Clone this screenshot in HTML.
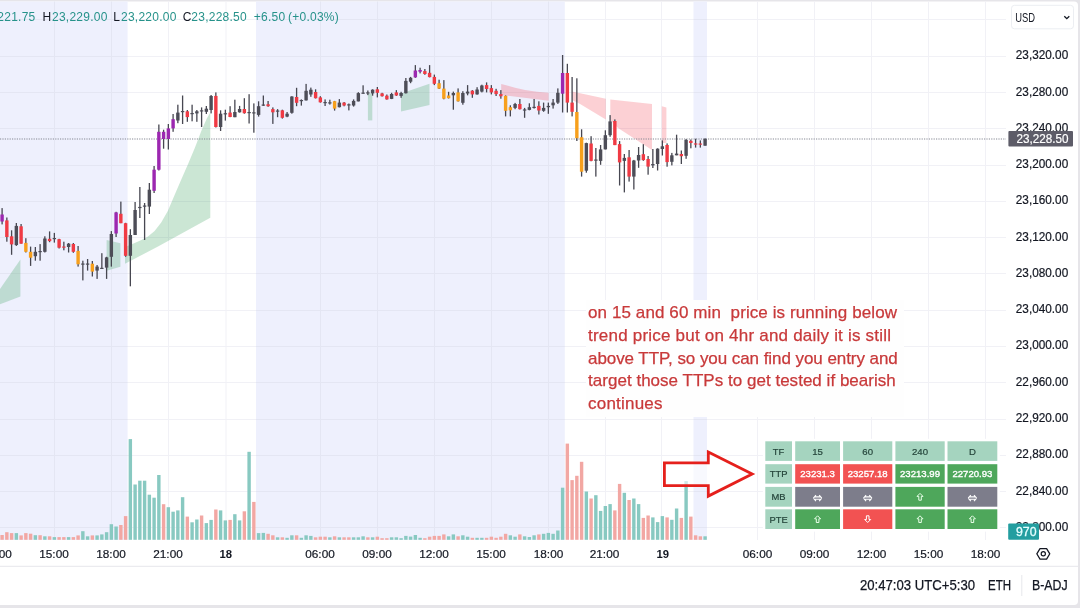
<!DOCTYPE html>
<html><head><meta charset="utf-8"><style>
html,body{margin:0;padding:0;background:#e6e5e9;width:1080px;height:608px;overflow:hidden}
svg{display:block;position:absolute;left:0;top:0}
text{font-family:"Liberation Sans",Arial,sans-serif}
</style></head><body>
<svg width="1080" height="608" viewBox="0 0 1080 608">
<path d="M-10,1.4 H1074 Q1078,1.4 1078,5.4 V601 Q1078,605 1074,605 H-10 Z" fill="#ffffff"/>
<rect x="0" y="1.5" width="127.6" height="538.5" fill="#eef0fd"/>
<rect x="256" y="1.5" width="308.79999999999995" height="538.5" fill="#eef0fd"/>
<rect x="693.5" y="1.5" width="13.5" height="538.5" fill="#eef0fd"/>
<defs><clipPath id="lav"><rect x="0" y="0" width="127.6" height="608"/><rect x="256" y="0" width="308.8" height="608"/><rect x="693.5" y="0" width="13.5" height="608"/></clipPath></defs>
<line x1="0" y1="19.5" x2="1006" y2="19.5" stroke="#f1f1f6" stroke-width="1"/>
<line x1="0" y1="56.5" x2="1006" y2="56.5" stroke="#f1f1f6" stroke-width="1"/>
<line x1="0" y1="92.5" x2="1006" y2="92.5" stroke="#f1f1f6" stroke-width="1"/>
<line x1="0" y1="128.5" x2="1006" y2="128.5" stroke="#f1f1f6" stroke-width="1"/>
<line x1="0" y1="165.5" x2="1006" y2="165.5" stroke="#f1f1f6" stroke-width="1"/>
<line x1="0" y1="201.5" x2="1006" y2="201.5" stroke="#f1f1f6" stroke-width="1"/>
<line x1="0" y1="237.5" x2="1006" y2="237.5" stroke="#f1f1f6" stroke-width="1"/>
<line x1="0" y1="273.5" x2="1006" y2="273.5" stroke="#f1f1f6" stroke-width="1"/>
<line x1="0" y1="310.5" x2="1006" y2="310.5" stroke="#f1f1f6" stroke-width="1"/>
<line x1="0" y1="346.5" x2="1006" y2="346.5" stroke="#f1f1f6" stroke-width="1"/>
<line x1="0" y1="382.5" x2="1006" y2="382.5" stroke="#f1f1f6" stroke-width="1"/>
<line x1="0" y1="419.5" x2="1006" y2="419.5" stroke="#f1f1f6" stroke-width="1"/>
<line x1="0" y1="455.5" x2="1006" y2="455.5" stroke="#f1f1f6" stroke-width="1"/>
<line x1="0" y1="491.5" x2="1006" y2="491.5" stroke="#f1f1f6" stroke-width="1"/>
<line x1="0" y1="527.5" x2="1006" y2="527.5" stroke="#f1f1f6" stroke-width="1"/>
<line x1="54.5" y1="1.5" x2="54.5" y2="540" stroke="#f1f1f6" stroke-width="1"/>
<line x1="111.5" y1="1.5" x2="111.5" y2="540" stroke="#f1f1f6" stroke-width="1"/>
<line x1="168.5" y1="1.5" x2="168.5" y2="540" stroke="#f1f1f6" stroke-width="1"/>
<line x1="226" y1="1.5" x2="226" y2="540" stroke="#f1f1f6" stroke-width="1"/>
<line x1="320.5" y1="1.5" x2="320.5" y2="540" stroke="#f1f1f6" stroke-width="1"/>
<line x1="377.5" y1="1.5" x2="377.5" y2="540" stroke="#f1f1f6" stroke-width="1"/>
<line x1="434.5" y1="1.5" x2="434.5" y2="540" stroke="#f1f1f6" stroke-width="1"/>
<line x1="491.5" y1="1.5" x2="491.5" y2="540" stroke="#f1f1f6" stroke-width="1"/>
<line x1="548.5" y1="1.5" x2="548.5" y2="540" stroke="#f1f1f6" stroke-width="1"/>
<line x1="605.5" y1="1.5" x2="605.5" y2="540" stroke="#f1f1f6" stroke-width="1"/>
<line x1="661.5" y1="1.5" x2="661.5" y2="540" stroke="#f1f1f6" stroke-width="1"/>
<line x1="757.5" y1="1.5" x2="757.5" y2="540" stroke="#f1f1f6" stroke-width="1"/>
<line x1="814.5" y1="1.5" x2="814.5" y2="540" stroke="#f1f1f6" stroke-width="1"/>
<line x1="871.5" y1="1.5" x2="871.5" y2="540" stroke="#f1f1f6" stroke-width="1"/>
<line x1="928.5" y1="1.5" x2="928.5" y2="540" stroke="#f1f1f6" stroke-width="1"/>
<line x1="985.5" y1="1.5" x2="985.5" y2="540" stroke="#f1f1f6" stroke-width="1"/>
<g clip-path="url(#lav)"><line x1="0" y1="19.5" x2="1006" y2="19.5" stroke="#e4e6f3" stroke-width="1"/>
<line x1="0" y1="56.5" x2="1006" y2="56.5" stroke="#e4e6f3" stroke-width="1"/>
<line x1="0" y1="92.5" x2="1006" y2="92.5" stroke="#e4e6f3" stroke-width="1"/>
<line x1="0" y1="128.5" x2="1006" y2="128.5" stroke="#e4e6f3" stroke-width="1"/>
<line x1="0" y1="165.5" x2="1006" y2="165.5" stroke="#e4e6f3" stroke-width="1"/>
<line x1="0" y1="201.5" x2="1006" y2="201.5" stroke="#e4e6f3" stroke-width="1"/>
<line x1="0" y1="237.5" x2="1006" y2="237.5" stroke="#e4e6f3" stroke-width="1"/>
<line x1="0" y1="273.5" x2="1006" y2="273.5" stroke="#e4e6f3" stroke-width="1"/>
<line x1="0" y1="310.5" x2="1006" y2="310.5" stroke="#e4e6f3" stroke-width="1"/>
<line x1="0" y1="346.5" x2="1006" y2="346.5" stroke="#e4e6f3" stroke-width="1"/>
<line x1="0" y1="382.5" x2="1006" y2="382.5" stroke="#e4e6f3" stroke-width="1"/>
<line x1="0" y1="419.5" x2="1006" y2="419.5" stroke="#e4e6f3" stroke-width="1"/>
<line x1="0" y1="455.5" x2="1006" y2="455.5" stroke="#e4e6f3" stroke-width="1"/>
<line x1="0" y1="491.5" x2="1006" y2="491.5" stroke="#e4e6f3" stroke-width="1"/>
<line x1="0" y1="527.5" x2="1006" y2="527.5" stroke="#e4e6f3" stroke-width="1"/>
<line x1="54.5" y1="1.5" x2="54.5" y2="540" stroke="#e4e6f3" stroke-width="1"/>
<line x1="111.5" y1="1.5" x2="111.5" y2="540" stroke="#e4e6f3" stroke-width="1"/>
<line x1="168.5" y1="1.5" x2="168.5" y2="540" stroke="#e4e6f3" stroke-width="1"/>
<line x1="226" y1="1.5" x2="226" y2="540" stroke="#e4e6f3" stroke-width="1"/>
<line x1="320.5" y1="1.5" x2="320.5" y2="540" stroke="#e4e6f3" stroke-width="1"/>
<line x1="377.5" y1="1.5" x2="377.5" y2="540" stroke="#e4e6f3" stroke-width="1"/>
<line x1="434.5" y1="1.5" x2="434.5" y2="540" stroke="#e4e6f3" stroke-width="1"/>
<line x1="491.5" y1="1.5" x2="491.5" y2="540" stroke="#e4e6f3" stroke-width="1"/>
<line x1="548.5" y1="1.5" x2="548.5" y2="540" stroke="#e4e6f3" stroke-width="1"/>
<line x1="605.5" y1="1.5" x2="605.5" y2="540" stroke="#e4e6f3" stroke-width="1"/>
<line x1="661.5" y1="1.5" x2="661.5" y2="540" stroke="#e4e6f3" stroke-width="1"/>
<line x1="757.5" y1="1.5" x2="757.5" y2="540" stroke="#e4e6f3" stroke-width="1"/>
<line x1="814.5" y1="1.5" x2="814.5" y2="540" stroke="#e4e6f3" stroke-width="1"/>
<line x1="871.5" y1="1.5" x2="871.5" y2="540" stroke="#e4e6f3" stroke-width="1"/>
<line x1="928.5" y1="1.5" x2="928.5" y2="540" stroke="#e4e6f3" stroke-width="1"/>
<line x1="985.5" y1="1.5" x2="985.5" y2="540" stroke="#e4e6f3" stroke-width="1"/></g>
<polygon points="0,289 20.4,259.6 20.4,296.4 0,304.3" fill="rgba(56,160,90,0.26)"/>
<polygon points="106.6,239.9 120.4,243.2 120.4,266.8 106.6,270.8" fill="rgba(56,160,90,0.26)"/>
<polygon points="125,247 132.4,244 141.5,239.9 148,236.6 154.6,230.9 161.2,222.6 167.8,211.1 172.7,199.6 177.6,188.1 182.6,176.6 188.4,163.2 195,147.4 201.6,130.3 206.8,118.4 210.3,112.5 210.3,217.7 158,246.5 125,263.8" fill="rgba(56,160,90,0.26)"/>
<rect x="367.9" y="93.4" width="4.4" height="27" fill="rgba(56,160,90,0.26)"/>
<polygon points="401,93.5 429.5,83.8 429.5,105 401,111.4" fill="rgba(56,160,90,0.26)"/>
<polygon points="501.2,84 508,85.8 515,87.8 525,90 537,91.8 548.6,92.8 548.6,100.7 501.2,95" fill="rgba(242,54,69,0.23)"/>
<polygon points="572,91.4 605.8,98.7 605.8,119.4 579.7,103.7 572,100" fill="rgba(242,54,69,0.23)"/>
<polygon points="610.3,99.5 652,104 652,150 618,128 610.3,120" fill="rgba(242,54,69,0.23)"/>
<polygon points="661.8,106.3 666.4,107.5 666.4,143 661.8,143" fill="rgba(242,54,69,0.23)"/>
<rect x="0.40" y="535.0" width="3.4" height="4.8" fill="#f2a7a3"/>
<rect x="5.15" y="532.2" width="3.4" height="7.6" fill="#f2a7a3"/>
<rect x="9.90" y="533.1" width="3.4" height="6.7" fill="#f2a7a3"/>
<rect x="14.65" y="533.1" width="3.4" height="6.7" fill="#88c9c1"/>
<rect x="19.40" y="535.4" width="3.4" height="4.4" fill="#f2a7a3"/>
<rect x="24.15" y="533.1" width="3.4" height="6.7" fill="#f2a7a3"/>
<rect x="28.90" y="533.7" width="3.4" height="6.1" fill="#f2a7a3"/>
<rect x="33.65" y="535.2" width="3.4" height="4.6" fill="#88c9c1"/>
<rect x="38.40" y="535.2" width="3.4" height="4.6" fill="#f2a7a3"/>
<rect x="43.15" y="536.3" width="3.4" height="3.5" fill="#88c9c1"/>
<rect x="47.90" y="536.3" width="3.4" height="3.5" fill="#f2a7a3"/>
<rect x="52.65" y="537.1" width="3.4" height="2.7" fill="#88c9c1"/>
<rect x="57.40" y="537.1" width="3.4" height="2.7" fill="#f2a7a3"/>
<rect x="62.15" y="537.1" width="3.4" height="2.7" fill="#f2a7a3"/>
<rect x="66.90" y="537.1" width="3.4" height="2.7" fill="#88c9c1"/>
<rect x="71.65" y="537.1" width="3.4" height="2.7" fill="#f2a7a3"/>
<rect x="76.40" y="535.4" width="3.4" height="4.4" fill="#f2a7a3"/>
<rect x="81.15" y="531.2" width="3.4" height="8.6" fill="#88c9c1"/>
<rect x="85.90" y="536.3" width="3.4" height="3.5" fill="#88c9c1"/>
<rect x="90.65" y="535.4" width="3.4" height="4.4" fill="#f2a7a3"/>
<rect x="95.40" y="535.4" width="3.4" height="4.4" fill="#88c9c1"/>
<rect x="100.15" y="534.4" width="3.4" height="5.4" fill="#88c9c1"/>
<rect x="104.90" y="532.2" width="3.4" height="7.6" fill="#88c9c1"/>
<rect x="109.65" y="524.2" width="3.4" height="15.6" fill="#88c9c1"/>
<rect x="114.40" y="526.5" width="3.4" height="13.3" fill="#88c9c1"/>
<rect x="119.15" y="525.0" width="3.4" height="14.8" fill="#f2a7a3"/>
<rect x="123.90" y="516.1" width="3.4" height="23.7" fill="#f2a7a3"/>
<rect x="128.65" y="439.1" width="3.4" height="100.7" fill="#88c9c1"/>
<rect x="133.40" y="484.5" width="3.4" height="55.3" fill="#88c9c1"/>
<rect x="138.15" y="480.7" width="3.4" height="59.1" fill="#88c9c1"/>
<rect x="142.90" y="480.7" width="3.4" height="59.1" fill="#88c9c1"/>
<rect x="147.65" y="494.7" width="3.4" height="45.1" fill="#88c9c1"/>
<rect x="152.40" y="497.7" width="3.4" height="42.1" fill="#88c9c1"/>
<rect x="157.15" y="475.0" width="3.4" height="64.8" fill="#88c9c1"/>
<rect x="161.90" y="504.2" width="3.4" height="35.6" fill="#f2a7a3"/>
<rect x="166.65" y="507.2" width="3.4" height="32.6" fill="#88c9c1"/>
<rect x="171.40" y="511.7" width="3.4" height="28.1" fill="#88c9c1"/>
<rect x="176.15" y="510.4" width="3.4" height="29.4" fill="#88c9c1"/>
<rect x="180.90" y="497.2" width="3.4" height="42.6" fill="#88c9c1"/>
<rect x="185.65" y="516.6" width="3.4" height="23.2" fill="#f2a7a3"/>
<rect x="190.40" y="522.3" width="3.4" height="17.5" fill="#88c9c1"/>
<rect x="195.15" y="519.5" width="3.4" height="20.3" fill="#88c9c1"/>
<rect x="199.90" y="515.5" width="3.4" height="24.3" fill="#f2a7a3"/>
<rect x="204.65" y="523.1" width="3.4" height="16.7" fill="#88c9c1"/>
<rect x="209.40" y="519.9" width="3.4" height="19.9" fill="#88c9c1"/>
<rect x="214.15" y="509.5" width="3.4" height="30.3" fill="#f2a7a3"/>
<rect x="218.90" y="510.4" width="3.4" height="29.4" fill="#88c9c1"/>
<rect x="223.65" y="520.4" width="3.4" height="19.4" fill="#88c9c1"/>
<rect x="228.40" y="519.9" width="3.4" height="19.9" fill="#f2a7a3"/>
<rect x="233.15" y="514.2" width="3.4" height="25.6" fill="#88c9c1"/>
<rect x="237.90" y="520.4" width="3.4" height="19.4" fill="#88c9c1"/>
<rect x="242.65" y="511.3" width="3.4" height="28.5" fill="#f2a7a3"/>
<rect x="247.40" y="451.8" width="3.4" height="88.0" fill="#88c9c1"/>
<rect x="252.15" y="501.9" width="3.4" height="37.9" fill="#f2a7a3"/>
<rect x="256.90" y="533.1" width="3.4" height="6.7" fill="#88c9c1"/>
<rect x="261.65" y="532.9" width="3.4" height="6.9" fill="#88c9c1"/>
<rect x="266.40" y="533.8" width="3.4" height="6.0" fill="#f2a7a3"/>
<rect x="271.15" y="535.3" width="3.4" height="4.5" fill="#f2a7a3"/>
<rect x="275.90" y="537.3" width="3.4" height="2.5" fill="#88c9c1"/>
<rect x="280.65" y="537.3" width="3.4" height="2.5" fill="#f2a7a3"/>
<rect x="285.40" y="537.8" width="3.4" height="2.0" fill="#88c9c1"/>
<rect x="290.15" y="535.3" width="3.4" height="4.5" fill="#88c9c1"/>
<rect x="294.90" y="535.3" width="3.4" height="4.5" fill="#f2a7a3"/>
<rect x="299.65" y="537.8" width="3.4" height="2.0" fill="#88c9c1"/>
<rect x="304.40" y="535.3" width="3.4" height="4.5" fill="#88c9c1"/>
<rect x="309.15" y="535.9" width="3.4" height="3.9" fill="#88c9c1"/>
<rect x="313.90" y="537.3" width="3.4" height="2.5" fill="#f2a7a3"/>
<rect x="318.65" y="536.7" width="3.4" height="3.1" fill="#f2a7a3"/>
<rect x="323.40" y="536.7" width="3.4" height="3.1" fill="#f2a7a3"/>
<rect x="328.15" y="537.3" width="3.4" height="2.5" fill="#88c9c1"/>
<rect x="332.90" y="536.3" width="3.4" height="3.5" fill="#f2a7a3"/>
<rect x="337.65" y="537.3" width="3.4" height="2.5" fill="#88c9c1"/>
<rect x="342.40" y="537.3" width="3.4" height="2.5" fill="#f2a7a3"/>
<rect x="347.15" y="537.3" width="3.4" height="2.5" fill="#f2a7a3"/>
<rect x="351.90" y="537.3" width="3.4" height="2.5" fill="#88c9c1"/>
<rect x="356.65" y="537.3" width="3.4" height="2.5" fill="#88c9c1"/>
<rect x="361.40" y="536.3" width="3.4" height="3.5" fill="#88c9c1"/>
<rect x="366.15" y="537.3" width="3.4" height="2.5" fill="#f2a7a3"/>
<rect x="370.90" y="537.3" width="3.4" height="2.5" fill="#88c9c1"/>
<rect x="375.65" y="536.7" width="3.4" height="3.1" fill="#f2a7a3"/>
<rect x="380.40" y="538.2" width="3.4" height="1.6" fill="#f2a7a3"/>
<rect x="385.15" y="538.2" width="3.4" height="1.6" fill="#f2a7a3"/>
<rect x="389.90" y="537.3" width="3.4" height="2.5" fill="#88c9c1"/>
<rect x="394.65" y="537.3" width="3.4" height="2.5" fill="#88c9c1"/>
<rect x="399.40" y="538.2" width="3.4" height="1.6" fill="#88c9c1"/>
<rect x="404.15" y="535.9" width="3.4" height="3.9" fill="#88c9c1"/>
<rect x="408.90" y="536.6" width="3.4" height="3.2" fill="#88c9c1"/>
<rect x="413.65" y="535.0" width="3.4" height="4.8" fill="#88c9c1"/>
<rect x="418.40" y="537.8" width="3.4" height="2.0" fill="#88c9c1"/>
<rect x="423.15" y="538.2" width="3.4" height="1.6" fill="#f2a7a3"/>
<rect x="427.90" y="536.7" width="3.4" height="3.1" fill="#f2a7a3"/>
<rect x="432.65" y="535.9" width="3.4" height="3.9" fill="#f2a7a3"/>
<rect x="437.40" y="535.9" width="3.4" height="3.9" fill="#f2a7a3"/>
<rect x="442.15" y="534.4" width="3.4" height="5.4" fill="#f2a7a3"/>
<rect x="446.90" y="536.3" width="3.4" height="3.5" fill="#88c9c1"/>
<rect x="451.65" y="534.4" width="3.4" height="5.4" fill="#88c9c1"/>
<rect x="456.40" y="536.3" width="3.4" height="3.5" fill="#f2a7a3"/>
<rect x="461.15" y="535.3" width="3.4" height="4.5" fill="#88c9c1"/>
<rect x="465.90" y="536.7" width="3.4" height="3.1" fill="#88c9c1"/>
<rect x="470.65" y="537.8" width="3.4" height="2.0" fill="#f2a7a3"/>
<rect x="475.40" y="537.8" width="3.4" height="2.0" fill="#88c9c1"/>
<rect x="480.15" y="537.8" width="3.4" height="2.0" fill="#88c9c1"/>
<rect x="484.90" y="537.8" width="3.4" height="2.0" fill="#f2a7a3"/>
<rect x="489.65" y="536.7" width="3.4" height="3.1" fill="#f2a7a3"/>
<rect x="494.40" y="537.8" width="3.4" height="2.0" fill="#f2a7a3"/>
<rect x="499.15" y="536.7" width="3.4" height="3.1" fill="#f2a7a3"/>
<rect x="503.90" y="533.8" width="3.4" height="6.0" fill="#f2a7a3"/>
<rect x="508.65" y="535.3" width="3.4" height="4.5" fill="#88c9c1"/>
<rect x="513.40" y="536.7" width="3.4" height="3.1" fill="#88c9c1"/>
<rect x="518.15" y="534.4" width="3.4" height="5.4" fill="#f2a7a3"/>
<rect x="522.90" y="536.3" width="3.4" height="3.5" fill="#88c9c1"/>
<rect x="527.65" y="537.0" width="3.4" height="2.8" fill="#88c9c1"/>
<rect x="532.40" y="535.3" width="3.4" height="4.5" fill="#88c9c1"/>
<rect x="537.15" y="534.4" width="3.4" height="5.4" fill="#f2a7a3"/>
<rect x="541.90" y="533.8" width="3.4" height="6.0" fill="#88c9c1"/>
<rect x="546.65" y="532.9" width="3.4" height="6.9" fill="#88c9c1"/>
<rect x="551.40" y="533.8" width="3.4" height="6.0" fill="#88c9c1"/>
<rect x="556.15" y="530.5" width="3.4" height="9.3" fill="#88c9c1"/>
<rect x="560.90" y="487.7" width="3.4" height="52.1" fill="#88c9c1"/>
<rect x="565.65" y="443.6" width="3.4" height="96.2" fill="#f2a7a3"/>
<rect x="570.40" y="480.1" width="3.4" height="59.7" fill="#f2a7a3"/>
<rect x="575.15" y="475.8" width="3.4" height="64.0" fill="#f2a7a3"/>
<rect x="579.90" y="461.8" width="3.4" height="78.0" fill="#f2a7a3"/>
<rect x="584.65" y="491.5" width="3.4" height="48.3" fill="#88c9c1"/>
<rect x="589.40" y="498.5" width="3.4" height="41.3" fill="#f2a7a3"/>
<rect x="594.15" y="495.2" width="3.4" height="44.6" fill="#88c9c1"/>
<rect x="598.90" y="510.9" width="3.4" height="28.9" fill="#88c9c1"/>
<rect x="603.65" y="506.0" width="3.4" height="33.8" fill="#88c9c1"/>
<rect x="608.40" y="504.1" width="3.4" height="35.7" fill="#88c9c1"/>
<rect x="613.15" y="510.4" width="3.4" height="29.4" fill="#f2a7a3"/>
<rect x="617.90" y="483.9" width="3.4" height="55.9" fill="#f2a7a3"/>
<rect x="622.65" y="492.8" width="3.4" height="47.0" fill="#88c9c1"/>
<rect x="627.40" y="500.0" width="3.4" height="39.8" fill="#f2a7a3"/>
<rect x="632.15" y="498.5" width="3.4" height="41.3" fill="#88c9c1"/>
<rect x="636.90" y="504.1" width="3.4" height="35.7" fill="#88c9c1"/>
<rect x="641.65" y="517.9" width="3.4" height="21.9" fill="#f2a7a3"/>
<rect x="646.40" y="515.5" width="3.4" height="24.3" fill="#f2a7a3"/>
<rect x="651.15" y="517.4" width="3.4" height="22.4" fill="#88c9c1"/>
<rect x="655.90" y="522.1" width="3.4" height="17.7" fill="#88c9c1"/>
<rect x="660.65" y="516.1" width="3.4" height="23.7" fill="#88c9c1"/>
<rect x="665.40" y="517.4" width="3.4" height="22.4" fill="#f2a7a3"/>
<rect x="670.15" y="519.8" width="3.4" height="20.0" fill="#88c9c1"/>
<rect x="674.90" y="508.5" width="3.4" height="31.3" fill="#88c9c1"/>
<rect x="679.65" y="517.9" width="3.4" height="21.9" fill="#f2a7a3"/>
<rect x="684.40" y="481.1" width="3.4" height="58.7" fill="#88c9c1"/>
<rect x="689.15" y="516.6" width="3.4" height="23.2" fill="#f2a7a3"/>
<rect x="693.90" y="535.3" width="3.4" height="4.5" fill="#f2a7a3"/>
<rect x="698.65" y="536.3" width="3.4" height="3.5" fill="#f2a7a3"/>
<rect x="703.40" y="536.3" width="3.4" height="3.5" fill="#88c9c1"/>
<line x1="0" y1="139" x2="1006" y2="139" stroke="#858893" stroke-width="1" stroke-dasharray="1.2 1.2"/>
<rect x="1.45" y="208.1" width="1.3" height="16.3" fill="#474751"/>
<rect x="0.40" y="214.5" width="3.4" height="7.0" fill="#9c27b0"/>
<rect x="6.20" y="217.5" width="1.3" height="24.2" fill="#474751"/>
<rect x="5.15" y="220.4" width="3.4" height="16.6" fill="#f03a44"/>
<rect x="10.95" y="230.3" width="1.3" height="24.5" fill="#474751"/>
<rect x="9.90" y="236.3" width="3.4" height="8.1" fill="#f03a44"/>
<rect x="15.70" y="223.0" width="1.3" height="22.9" fill="#474751"/>
<rect x="14.65" y="225.9" width="3.4" height="19.2" fill="#4d4d57"/>
<rect x="20.45" y="224.0" width="1.3" height="19.7" fill="#474751"/>
<rect x="19.40" y="226.3" width="3.4" height="17.4" fill="#f03a44"/>
<rect x="25.20" y="238.2" width="1.3" height="14.3" fill="#474751"/>
<rect x="24.15" y="242.9" width="3.4" height="8.9" fill="#f7a01c"/>
<rect x="29.95" y="246.6" width="1.3" height="19.3" fill="#474751"/>
<rect x="28.90" y="251.8" width="3.4" height="5.9" fill="#f7a01c"/>
<rect x="34.70" y="247.0" width="1.3" height="13.7" fill="#474751"/>
<rect x="33.65" y="251.8" width="3.4" height="4.4" fill="#4d4d57"/>
<rect x="39.45" y="244.1" width="1.3" height="16.6" fill="#474751"/>
<rect x="38.40" y="251.0" width="3.4" height="1.2" fill="#4d4d57"/>
<rect x="44.20" y="236.3" width="1.3" height="16.2" fill="#474751"/>
<rect x="43.15" y="238.5" width="3.4" height="13.3" fill="#4d4d57"/>
<rect x="48.95" y="231.4" width="1.3" height="10.8" fill="#474751"/>
<rect x="47.90" y="238.8" width="3.4" height="2.3" fill="#f03a44"/>
<rect x="53.70" y="232.9" width="1.3" height="9.7" fill="#474751"/>
<rect x="52.65" y="238.0" width="3.4" height="1.2" fill="#4d4d57"/>
<rect x="58.45" y="238.8" width="1.3" height="9.7" fill="#474751"/>
<rect x="57.40" y="239.2" width="3.4" height="8.5" fill="#f03a44"/>
<rect x="63.20" y="241.7" width="1.3" height="8.6" fill="#474751"/>
<rect x="62.15" y="246.5" width="3.4" height="1.2" fill="#f03a44"/>
<rect x="67.95" y="243.0" width="1.3" height="9.5" fill="#474751"/>
<rect x="66.90" y="243.7" width="3.4" height="3.3" fill="#4d4d57"/>
<rect x="72.70" y="243.0" width="1.3" height="9.8" fill="#474751"/>
<rect x="71.65" y="244.0" width="3.4" height="7.8" fill="#f03a44"/>
<rect x="77.45" y="246.0" width="1.3" height="20.6" fill="#474751"/>
<rect x="76.40" y="250.9" width="3.4" height="13.4" fill="#f7a01c"/>
<rect x="82.20" y="260.7" width="1.3" height="19.7" fill="#474751"/>
<rect x="81.15" y="263.5" width="3.4" height="1.2" fill="#4d4d57"/>
<rect x="86.95" y="259.0" width="1.3" height="11.6" fill="#474751"/>
<rect x="85.90" y="263.5" width="3.4" height="1.2" fill="#4d4d57"/>
<rect x="91.70" y="261.0" width="1.3" height="15.5" fill="#474751"/>
<rect x="90.65" y="263.7" width="3.4" height="7.9" fill="#f7a01c"/>
<rect x="96.45" y="265.0" width="1.3" height="13.9" fill="#474751"/>
<rect x="95.40" y="266.6" width="3.4" height="4.0" fill="#4d4d57"/>
<rect x="101.20" y="253.2" width="1.3" height="15.4" fill="#474751"/>
<rect x="100.15" y="267.8" width="3.4" height="1.2" fill="#4d4d57"/>
<rect x="105.95" y="256.8" width="1.3" height="22.1" fill="#474751"/>
<rect x="104.90" y="257.4" width="3.4" height="10.2" fill="#4d4d57"/>
<rect x="110.70" y="231.1" width="1.3" height="35.5" fill="#474751"/>
<rect x="109.65" y="234.0" width="3.4" height="22.8" fill="#4d4d57"/>
<rect x="115.45" y="211.8" width="1.3" height="25.2" fill="#474751"/>
<rect x="114.40" y="212.4" width="3.4" height="21.1" fill="#9c27b0"/>
<rect x="120.20" y="201.6" width="1.3" height="21.6" fill="#474751"/>
<rect x="119.15" y="213.8" width="3.4" height="9.4" fill="#f03a44"/>
<rect x="124.95" y="222.8" width="1.3" height="34.0" fill="#474751"/>
<rect x="123.90" y="223.2" width="3.4" height="32.6" fill="#f03a44"/>
<rect x="129.70" y="229.2" width="1.3" height="57.1" fill="#474751"/>
<rect x="128.65" y="235.0" width="3.4" height="20.8" fill="#4d4d57"/>
<rect x="134.45" y="202.0" width="1.3" height="33.0" fill="#474751"/>
<rect x="133.40" y="210.0" width="3.4" height="25.0" fill="#4d4d57"/>
<rect x="139.20" y="187.0" width="1.3" height="31.0" fill="#474751"/>
<rect x="138.15" y="206.9" width="3.4" height="1.2" fill="#4d4d57"/>
<rect x="143.95" y="203.0" width="1.3" height="37.0" fill="#474751"/>
<rect x="142.90" y="205.5" width="3.4" height="1.2" fill="#4d4d57"/>
<rect x="148.70" y="183.0" width="1.3" height="31.0" fill="#474751"/>
<rect x="147.65" y="189.7" width="3.4" height="16.9" fill="#4d4d57"/>
<rect x="153.45" y="166.0" width="1.3" height="27.0" fill="#474751"/>
<rect x="152.40" y="169.7" width="3.4" height="21.1" fill="#9c27b0"/>
<rect x="158.20" y="124.5" width="1.3" height="46.0" fill="#474751"/>
<rect x="157.15" y="131.8" width="3.4" height="37.9" fill="#9c27b0"/>
<rect x="162.95" y="129.7" width="1.3" height="19.0" fill="#474751"/>
<rect x="161.90" y="131.8" width="3.4" height="7.2" fill="#9c27b0"/>
<rect x="167.70" y="124.0" width="1.3" height="25.5" fill="#474751"/>
<rect x="166.65" y="128.4" width="3.4" height="10.6" fill="#9c27b0"/>
<rect x="172.45" y="114.0" width="1.3" height="17.8" fill="#474751"/>
<rect x="171.40" y="119.2" width="3.4" height="9.2" fill="#9c27b0"/>
<rect x="177.20" y="104.7" width="1.3" height="18.5" fill="#474751"/>
<rect x="176.15" y="112.6" width="3.4" height="7.9" fill="#4d4d57"/>
<rect x="181.95" y="95.5" width="1.3" height="28.5" fill="#474751"/>
<rect x="180.90" y="111.0" width="3.4" height="1.2" fill="#4d4d57"/>
<rect x="186.70" y="110.0" width="1.3" height="11.8" fill="#474751"/>
<rect x="185.65" y="111.3" width="3.4" height="5.8" fill="#f03a44"/>
<rect x="191.45" y="104.7" width="1.3" height="16.6" fill="#474751"/>
<rect x="190.40" y="113.0" width="3.4" height="1.2" fill="#4d4d57"/>
<rect x="196.20" y="110.0" width="1.3" height="11.8" fill="#474751"/>
<rect x="195.15" y="111.3" width="3.4" height="2.1" fill="#4d4d57"/>
<rect x="200.95" y="107.4" width="1.3" height="19.6" fill="#474751"/>
<rect x="199.90" y="110.3" width="3.4" height="1.2" fill="#4d4d57"/>
<rect x="205.70" y="106.0" width="1.3" height="8.0" fill="#474751"/>
<rect x="204.65" y="108.7" width="3.4" height="3.1" fill="#4d4d57"/>
<rect x="210.45" y="95.0" width="1.3" height="18.4" fill="#474751"/>
<rect x="209.40" y="96.0" width="3.4" height="14.0" fill="#4d4d57"/>
<rect x="215.20" y="92.4" width="1.3" height="35.1" fill="#474751"/>
<rect x="214.15" y="95.9" width="3.4" height="31.1" fill="#f03a44"/>
<rect x="219.95" y="110.3" width="1.3" height="20.7" fill="#474751"/>
<rect x="218.90" y="113.7" width="3.4" height="13.3" fill="#4d4d57"/>
<rect x="224.70" y="109.7" width="1.3" height="10.9" fill="#474751"/>
<rect x="223.65" y="113.2" width="3.4" height="1.2" fill="#4d4d57"/>
<rect x="229.45" y="106.2" width="1.3" height="11.0" fill="#474751"/>
<rect x="228.40" y="112.6" width="3.4" height="4.4" fill="#f03a44"/>
<rect x="234.20" y="99.7" width="1.3" height="17.5" fill="#474751"/>
<rect x="233.15" y="112.0" width="3.4" height="5.2" fill="#4d4d57"/>
<rect x="238.95" y="105.9" width="1.3" height="6.7" fill="#474751"/>
<rect x="237.90" y="109.0" width="3.4" height="3.3" fill="#4d4d57"/>
<rect x="243.70" y="98.2" width="1.3" height="15.5" fill="#474751"/>
<rect x="242.65" y="109.0" width="3.4" height="4.2" fill="#f03a44"/>
<rect x="248.45" y="94.2" width="1.3" height="29.3" fill="#474751"/>
<rect x="247.40" y="112.0" width="3.4" height="1.2" fill="#4d4d57"/>
<rect x="253.20" y="103.4" width="1.3" height="29.3" fill="#474751"/>
<rect x="252.15" y="112.3" width="3.4" height="1.2" fill="#4d4d57"/>
<rect x="257.95" y="101.3" width="1.3" height="15.3" fill="#474751"/>
<rect x="256.90" y="106.2" width="3.4" height="8.7" fill="#4d4d57"/>
<rect x="262.70" y="95.5" width="1.3" height="10.4" fill="#474751"/>
<rect x="261.65" y="104.5" width="3.4" height="1.2" fill="#4d4d57"/>
<rect x="267.45" y="101.0" width="1.3" height="5.8" fill="#474751"/>
<rect x="266.40" y="104.3" width="3.4" height="1.9" fill="#f03a44"/>
<rect x="272.20" y="107.4" width="1.3" height="16.5" fill="#474751"/>
<rect x="271.15" y="109.1" width="3.4" height="3.2" fill="#f03a44"/>
<rect x="276.95" y="109.1" width="1.3" height="8.1" fill="#474751"/>
<rect x="275.90" y="110.5" width="3.4" height="1.2" fill="#4d4d57"/>
<rect x="281.70" y="109.7" width="1.3" height="8.9" fill="#474751"/>
<rect x="280.65" y="110.3" width="3.4" height="7.5" fill="#f03a44"/>
<rect x="286.45" y="112.0" width="1.3" height="5.2" fill="#474751"/>
<rect x="285.40" y="113.7" width="3.4" height="2.9" fill="#4d4d57"/>
<rect x="291.20" y="96.2" width="1.3" height="17.5" fill="#474751"/>
<rect x="290.15" y="96.5" width="3.4" height="16.3" fill="#4d4d57"/>
<rect x="295.95" y="87.8" width="1.3" height="18.4" fill="#474751"/>
<rect x="294.90" y="97.0" width="3.4" height="5.8" fill="#f03a44"/>
<rect x="300.70" y="99.4" width="1.3" height="6.2" fill="#474751"/>
<rect x="299.65" y="100.0" width="3.4" height="1.2" fill="#4d4d57"/>
<rect x="305.45" y="83.9" width="1.3" height="16.6" fill="#474751"/>
<rect x="304.40" y="90.8" width="3.4" height="9.6" fill="#4d4d57"/>
<rect x="310.20" y="87.6" width="1.3" height="9.2" fill="#474751"/>
<rect x="309.15" y="89.7" width="3.4" height="4.8" fill="#4d4d57"/>
<rect x="314.95" y="89.3" width="1.3" height="9.2" fill="#474751"/>
<rect x="313.90" y="92.0" width="3.4" height="6.2" fill="#f03a44"/>
<rect x="319.70" y="96.2" width="1.3" height="6.4" fill="#474751"/>
<rect x="318.65" y="97.4" width="3.4" height="4.9" fill="#f03a44"/>
<rect x="324.45" y="99.4" width="1.3" height="6.6" fill="#474751"/>
<rect x="323.40" y="102.0" width="3.4" height="1.2" fill="#4d4d57"/>
<rect x="329.20" y="99.7" width="1.3" height="4.9" fill="#474751"/>
<rect x="328.15" y="102.3" width="3.4" height="1.2" fill="#4d4d57"/>
<rect x="333.95" y="100.9" width="1.3" height="9.7" fill="#474751"/>
<rect x="332.90" y="101.2" width="3.4" height="7.4" fill="#f7a01c"/>
<rect x="338.70" y="99.1" width="1.3" height="8.3" fill="#474751"/>
<rect x="337.65" y="102.6" width="3.4" height="4.6" fill="#4d4d57"/>
<rect x="343.45" y="102.0" width="1.3" height="4.3" fill="#474751"/>
<rect x="342.40" y="102.6" width="3.4" height="2.9" fill="#f03a44"/>
<rect x="348.20" y="103.5" width="1.3" height="6.9" fill="#474751"/>
<rect x="347.15" y="104.3" width="3.4" height="1.2" fill="#4d4d57"/>
<rect x="352.95" y="99.4" width="1.3" height="7.2" fill="#474751"/>
<rect x="351.90" y="100.9" width="3.4" height="4.6" fill="#4d4d57"/>
<rect x="357.70" y="92.2" width="1.3" height="9.2" fill="#474751"/>
<rect x="356.65" y="93.1" width="3.4" height="8.3" fill="#4d4d57"/>
<rect x="362.45" y="85.3" width="1.3" height="8.3" fill="#474751"/>
<rect x="361.40" y="92.6" width="3.4" height="1.2" fill="#4d4d57"/>
<rect x="367.20" y="90.5" width="1.3" height="4.6" fill="#474751"/>
<rect x="366.15" y="92.3" width="3.4" height="1.2" fill="#4d4d57"/>
<rect x="371.95" y="89.3" width="1.3" height="6.4" fill="#474751"/>
<rect x="370.90" y="89.7" width="3.4" height="3.7" fill="#4d4d57"/>
<rect x="376.70" y="87.0" width="1.3" height="10.4" fill="#474751"/>
<rect x="375.65" y="89.3" width="3.4" height="3.5" fill="#f03a44"/>
<rect x="381.45" y="92.8" width="1.3" height="3.8" fill="#474751"/>
<rect x="380.40" y="93.4" width="3.4" height="2.8" fill="#f03a44"/>
<rect x="386.20" y="94.5" width="1.3" height="5.2" fill="#474751"/>
<rect x="385.15" y="95.7" width="3.4" height="3.7" fill="#f03a44"/>
<rect x="390.95" y="92.8" width="1.3" height="6.3" fill="#474751"/>
<rect x="389.90" y="94.0" width="3.4" height="4.9" fill="#4d4d57"/>
<rect x="395.70" y="90.1" width="1.3" height="5.8" fill="#474751"/>
<rect x="394.65" y="92.4" width="3.4" height="3.1" fill="#f03a44"/>
<rect x="400.45" y="91.8" width="1.3" height="6.0" fill="#474751"/>
<rect x="399.40" y="93.0" width="3.4" height="2.9" fill="#4d4d57"/>
<rect x="405.20" y="78.0" width="1.3" height="15.5" fill="#474751"/>
<rect x="404.15" y="80.9" width="3.4" height="12.3" fill="#4d4d57"/>
<rect x="409.95" y="76.9" width="1.3" height="6.3" fill="#474751"/>
<rect x="408.90" y="77.8" width="3.4" height="3.9" fill="#4d4d57"/>
<rect x="414.70" y="65.1" width="1.3" height="12.7" fill="#474751"/>
<rect x="413.65" y="70.5" width="3.4" height="6.9" fill="#9c27b0"/>
<rect x="419.45" y="67.7" width="1.3" height="5.7" fill="#474751"/>
<rect x="418.40" y="70.0" width="3.4" height="1.7" fill="#9c27b0"/>
<rect x="424.20" y="69.0" width="1.3" height="5.8" fill="#474751"/>
<rect x="423.15" y="71.1" width="3.4" height="2.9" fill="#f03a44"/>
<rect x="428.95" y="65.1" width="1.3" height="12.3" fill="#474751"/>
<rect x="427.90" y="72.8" width="3.4" height="4.3" fill="#f03a44"/>
<rect x="433.70" y="74.6" width="1.3" height="10.5" fill="#474751"/>
<rect x="432.65" y="76.9" width="3.4" height="6.9" fill="#f03a44"/>
<rect x="438.45" y="79.7" width="1.3" height="9.3" fill="#474751"/>
<rect x="437.40" y="83.2" width="3.4" height="5.4" fill="#f7a01c"/>
<rect x="443.20" y="80.1" width="1.3" height="19.2" fill="#474751"/>
<rect x="442.15" y="88.6" width="3.4" height="10.1" fill="#f7a01c"/>
<rect x="447.95" y="91.8" width="1.3" height="6.7" fill="#474751"/>
<rect x="446.90" y="95.5" width="3.4" height="2.7" fill="#f7a01c"/>
<rect x="452.70" y="91.6" width="1.3" height="18.1" fill="#474751"/>
<rect x="451.65" y="93.0" width="3.4" height="2.3" fill="#4d4d57"/>
<rect x="457.45" y="88.4" width="1.3" height="13.2" fill="#474751"/>
<rect x="456.40" y="92.4" width="3.4" height="8.9" fill="#f7a01c"/>
<rect x="462.20" y="91.2" width="1.3" height="13.5" fill="#474751"/>
<rect x="461.15" y="93.0" width="3.4" height="9.8" fill="#4d4d57"/>
<rect x="466.95" y="85.1" width="1.3" height="10.2" fill="#474751"/>
<rect x="465.90" y="91.6" width="3.4" height="1.9" fill="#4d4d57"/>
<rect x="471.70" y="90.1" width="1.3" height="7.7" fill="#474751"/>
<rect x="470.65" y="90.7" width="3.4" height="3.7" fill="#f03a44"/>
<rect x="476.45" y="87.2" width="1.3" height="7.5" fill="#474751"/>
<rect x="475.40" y="89.5" width="3.4" height="4.9" fill="#4d4d57"/>
<rect x="481.20" y="84.7" width="1.3" height="7.7" fill="#474751"/>
<rect x="480.15" y="85.5" width="3.4" height="6.1" fill="#4d4d57"/>
<rect x="485.95" y="82.4" width="1.3" height="10.0" fill="#474751"/>
<rect x="484.90" y="85.1" width="3.4" height="3.9" fill="#f03a44"/>
<rect x="490.70" y="85.1" width="1.3" height="9.3" fill="#474751"/>
<rect x="489.65" y="88.1" width="3.4" height="4.3" fill="#f03a44"/>
<rect x="495.45" y="88.8" width="1.3" height="7.2" fill="#474751"/>
<rect x="494.40" y="90.8" width="3.4" height="3.3" fill="#f03a44"/>
<rect x="500.20" y="90.1" width="1.3" height="8.6" fill="#474751"/>
<rect x="499.15" y="94.1" width="3.4" height="2.2" fill="#f03a44"/>
<rect x="504.95" y="95.4" width="1.3" height="21.0" fill="#474751"/>
<rect x="503.90" y="95.8" width="3.4" height="15.0" fill="#f7a01c"/>
<rect x="509.70" y="105.3" width="1.3" height="11.1" fill="#474751"/>
<rect x="508.65" y="107.2" width="3.4" height="3.1" fill="#f7a01c"/>
<rect x="514.45" y="102.9" width="1.3" height="6.3" fill="#474751"/>
<rect x="513.40" y="104.0" width="3.4" height="3.9" fill="#4d4d57"/>
<rect x="519.20" y="99.0" width="1.3" height="10.5" fill="#474751"/>
<rect x="518.15" y="104.0" width="3.4" height="5.2" fill="#f03a44"/>
<rect x="523.95" y="107.9" width="1.3" height="9.9" fill="#474751"/>
<rect x="522.90" y="109.4" width="3.4" height="1.2" fill="#4d4d57"/>
<rect x="528.70" y="103.3" width="1.3" height="7.0" fill="#474751"/>
<rect x="527.65" y="107.2" width="3.4" height="2.7" fill="#4d4d57"/>
<rect x="533.45" y="99.0" width="1.3" height="9.6" fill="#474751"/>
<rect x="532.40" y="106.8" width="3.4" height="1.2" fill="#4d4d57"/>
<rect x="538.20" y="101.3" width="1.3" height="13.2" fill="#474751"/>
<rect x="537.15" y="105.9" width="3.4" height="4.6" fill="#f03a44"/>
<rect x="542.95" y="102.6" width="1.3" height="9.2" fill="#474751"/>
<rect x="541.90" y="107.9" width="3.4" height="2.9" fill="#4d4d57"/>
<rect x="547.70" y="102.6" width="1.3" height="11.2" fill="#474751"/>
<rect x="546.65" y="105.9" width="3.4" height="1.3" fill="#4d4d57"/>
<rect x="552.45" y="99.0" width="1.3" height="9.6" fill="#474751"/>
<rect x="551.40" y="102.6" width="3.4" height="2.7" fill="#4d4d57"/>
<rect x="557.20" y="88.4" width="1.3" height="15.5" fill="#474751"/>
<rect x="556.15" y="92.8" width="3.4" height="9.8" fill="#4d4d57"/>
<rect x="561.95" y="55.0" width="1.3" height="57.5" fill="#474751"/>
<rect x="560.90" y="73.0" width="3.4" height="20.7" fill="#9c27b0"/>
<rect x="566.70" y="63.8" width="1.3" height="48.7" fill="#474751"/>
<rect x="565.65" y="73.0" width="3.4" height="29.6" fill="#f03a44"/>
<rect x="571.45" y="77.0" width="1.3" height="39.4" fill="#474751"/>
<rect x="570.40" y="102.6" width="3.4" height="9.2" fill="#f03a44"/>
<rect x="576.20" y="78.3" width="1.3" height="62.7" fill="#474751"/>
<rect x="575.15" y="112.0" width="3.4" height="26.2" fill="#f7a01c"/>
<rect x="580.95" y="129.3" width="1.3" height="47.3" fill="#474751"/>
<rect x="579.90" y="137.2" width="3.4" height="34.5" fill="#f7a01c"/>
<rect x="585.70" y="142.7" width="1.3" height="30.0" fill="#474751"/>
<rect x="584.65" y="143.1" width="3.4" height="27.6" fill="#4d4d57"/>
<rect x="590.45" y="136.2" width="1.3" height="25.1" fill="#474751"/>
<rect x="589.40" y="143.5" width="3.4" height="17.4" fill="#f03a44"/>
<rect x="595.20" y="148.0" width="1.3" height="28.6" fill="#474751"/>
<rect x="594.15" y="159.5" width="3.4" height="1.2" fill="#4d4d57"/>
<rect x="599.95" y="145.0" width="1.3" height="19.8" fill="#474751"/>
<rect x="598.90" y="149.4" width="3.4" height="11.5" fill="#4d4d57"/>
<rect x="604.70" y="130.3" width="1.3" height="19.1" fill="#474751"/>
<rect x="603.65" y="135.2" width="3.4" height="14.2" fill="#4d4d57"/>
<rect x="609.45" y="115.1" width="1.3" height="21.7" fill="#474751"/>
<rect x="608.40" y="121.4" width="3.4" height="13.8" fill="#4d4d57"/>
<rect x="614.20" y="119.4" width="1.3" height="25.7" fill="#474751"/>
<rect x="613.15" y="121.0" width="3.4" height="24.1" fill="#f03a44"/>
<rect x="618.95" y="141.1" width="1.3" height="44.4" fill="#474751"/>
<rect x="617.90" y="144.1" width="3.4" height="18.3" fill="#f03a44"/>
<rect x="623.70" y="154.0" width="1.3" height="38.4" fill="#474751"/>
<rect x="622.65" y="157.9" width="3.4" height="3.0" fill="#4d4d57"/>
<rect x="628.45" y="150.0" width="1.3" height="31.6" fill="#474751"/>
<rect x="627.40" y="157.3" width="3.4" height="19.3" fill="#f03a44"/>
<rect x="633.20" y="159.9" width="1.3" height="29.6" fill="#474751"/>
<rect x="632.15" y="160.5" width="3.4" height="16.1" fill="#4d4d57"/>
<rect x="637.95" y="147.0" width="1.3" height="20.8" fill="#474751"/>
<rect x="636.90" y="155.0" width="3.4" height="5.5" fill="#4d4d57"/>
<rect x="642.70" y="144.2" width="1.3" height="16.6" fill="#474751"/>
<rect x="641.65" y="154.2" width="3.4" height="5.9" fill="#f03a44"/>
<rect x="647.45" y="156.0" width="1.3" height="18.7" fill="#474751"/>
<rect x="646.40" y="159.0" width="3.4" height="7.6" fill="#f03a44"/>
<rect x="652.20" y="149.0" width="1.3" height="19.0" fill="#474751"/>
<rect x="651.15" y="164.0" width="3.4" height="1.4" fill="#4d4d57"/>
<rect x="656.95" y="148.3" width="1.3" height="22.2" fill="#474751"/>
<rect x="655.90" y="148.7" width="3.4" height="15.3" fill="#4d4d57"/>
<rect x="661.70" y="140.4" width="1.3" height="15.1" fill="#474751"/>
<rect x="660.65" y="146.3" width="3.4" height="2.7" fill="#4d4d57"/>
<rect x="666.45" y="143.4" width="1.3" height="23.3" fill="#474751"/>
<rect x="665.40" y="145.0" width="3.4" height="17.1" fill="#f03a44"/>
<rect x="671.20" y="152.9" width="1.3" height="12.5" fill="#474751"/>
<rect x="670.15" y="155.3" width="3.4" height="6.5" fill="#4d4d57"/>
<rect x="675.95" y="134.7" width="1.3" height="20.6" fill="#474751"/>
<rect x="674.90" y="153.6" width="3.4" height="1.7" fill="#4d4d57"/>
<rect x="680.70" y="150.5" width="1.3" height="13.5" fill="#474751"/>
<rect x="679.65" y="154.0" width="3.4" height="2.2" fill="#f03a44"/>
<rect x="685.45" y="139.0" width="1.3" height="19.8" fill="#474751"/>
<rect x="684.40" y="140.0" width="3.4" height="15.8" fill="#4d4d57"/>
<rect x="690.20" y="139.5" width="1.3" height="8.8" fill="#474751"/>
<rect x="689.15" y="140.8" width="3.4" height="2.2" fill="#f03a44"/>
<rect x="694.95" y="138.7" width="1.3" height="8.9" fill="#474751"/>
<rect x="693.90" y="143.4" width="3.4" height="1.2" fill="#f03a44"/>
<rect x="699.70" y="140.4" width="1.3" height="7.2" fill="#474751"/>
<rect x="698.65" y="143.5" width="3.4" height="1.2" fill="#f03a44"/>
<rect x="704.45" y="138.4" width="1.3" height="7.3" fill="#474751"/>
<rect x="703.40" y="138.8" width="3.4" height="6.9" fill="#4d4d57"/>
<rect x="586" y="300" width="318" height="117" fill="#fefefe"/>
<text x="588" y="318.4" font-size="17" fill="#c8393a" stroke="#c8393a" stroke-width="0.25" xml:space="preserve" textLength="309" lengthAdjust="spacing">on 15 and 60 min  price is running below</text>
<text x="588" y="341.0" font-size="17" fill="#c8393a" stroke="#c8393a" stroke-width="0.25" xml:space="preserve" textLength="303" lengthAdjust="spacing">trend price but on 4hr and daily it is still</text>
<text x="588" y="363.7" font-size="17" fill="#c8393a" stroke="#c8393a" stroke-width="0.25" xml:space="preserve" textLength="309.8" lengthAdjust="spacing">above TTP, so you can find you entry and</text>
<text x="588" y="386.3" font-size="17" fill="#c8393a" stroke="#c8393a" stroke-width="0.25" xml:space="preserve" textLength="307.8" lengthAdjust="spacing">target those TTPs to get tested if bearish</text>
<text x="588" y="409.0" font-size="17" fill="#c8393a" stroke="#c8393a" stroke-width="0.25" xml:space="preserve" textLength="74.5" lengthAdjust="spacing">continues</text>
<path d="M664.4,462.8 H708.3 V452 L752.2,473.9 L708.3,496.1 V485.6 H664.4 Z" fill="rgba(255,255,255,0.6)" stroke="#e5201c" stroke-width="2.8" stroke-linejoin="miter"/>
<rect x="762.8" y="438.8" width="237" height="92.8" fill="#ffffff"/>
<rect x="765.3" y="441.3" width="26.7" height="19.6" fill="#a5d4bf"/>
<text x="778.6" y="454.5" font-size="9.4" fill="#24443a" stroke="#24443a" stroke-width="0.2" text-anchor="middle">TF</text>
<rect x="795.2" y="441.3" width="44.8" height="19.6" fill="#a5d4bf"/>
<text x="817.6" y="454.5" font-size="9.6" fill="#24443a" stroke="#24443a" stroke-width="0.2" text-anchor="middle">15</text>
<rect x="843.1" y="441.3" width="49.2" height="19.6" fill="#a5d4bf"/>
<text x="867.7" y="454.5" font-size="9.6" fill="#24443a" stroke="#24443a" stroke-width="0.2" text-anchor="middle">60</text>
<rect x="895.4" y="441.3" width="49.3" height="19.6" fill="#a5d4bf"/>
<text x="920.0" y="454.5" font-size="9.6" fill="#24443a" stroke="#24443a" stroke-width="0.2" text-anchor="middle">240</text>
<rect x="947.5" y="441.3" width="49.8" height="19.6" fill="#a5d4bf"/>
<text x="972.4" y="454.5" font-size="9.6" fill="#24443a" stroke="#24443a" stroke-width="0.2" text-anchor="middle">D</text>
<rect x="765.3" y="464.2" width="26.7" height="19.4" fill="#a5d4bf"/>
<text x="778.6" y="477.3" font-size="9.4" fill="#24443a" stroke="#24443a" stroke-width="0.2" text-anchor="middle">TTP</text>
<rect x="795.2" y="464.2" width="44.8" height="19.4" fill="#f25252"/>
<text x="817.6" y="477.3" font-size="9.6" fill="#fff" stroke="#fff" stroke-width="0.35" text-anchor="middle">23231.3</text>
<rect x="843.1" y="464.2" width="49.2" height="19.4" fill="#f25252"/>
<text x="867.7" y="477.3" font-size="9.6" fill="#fff" stroke="#fff" stroke-width="0.35" text-anchor="middle">23257.18</text>
<rect x="895.4" y="464.2" width="49.3" height="19.4" fill="#4ea75b"/>
<text x="920.0" y="477.3" font-size="9.6" fill="#fff" stroke="#fff" stroke-width="0.35" text-anchor="middle">23213.99</text>
<rect x="947.5" y="464.2" width="49.8" height="19.4" fill="#4ea75b"/>
<text x="972.4" y="477.3" font-size="9.6" fill="#fff" stroke="#fff" stroke-width="0.35" text-anchor="middle">22720.93</text>
<rect x="765.3" y="486.9" width="26.7" height="19.8" fill="#a5d4bf"/>
<text x="778.6" y="500.2" font-size="9.4" fill="#24443a" stroke="#24443a" stroke-width="0.2" text-anchor="middle">MB</text>
<rect x="795.2" y="486.9" width="44.8" height="19.8" fill="#7d7d8b"/>
<path d="M813.4,498.1 L816.0,495.1 M813.4,498.1 L816.0,501.1 M821.8,498.1 L819.2,495.1 M821.8,498.1 L819.2,501.1 M815.0,496.9 H820.2 M815.0,499.3 H820.2" stroke="#fff" stroke-width="1.1" fill="none"/>
<rect x="843.1" y="486.9" width="49.2" height="19.8" fill="#7d7d8b"/>
<path d="M863.5,498.1 L866.1,495.1 M863.5,498.1 L866.1,501.1 M871.9,498.1 L869.3,495.1 M871.9,498.1 L869.3,501.1 M865.1,496.9 H870.3 M865.1,499.3 H870.3" stroke="#fff" stroke-width="1.1" fill="none"/>
<rect x="895.4" y="486.9" width="49.3" height="19.8" fill="#4ea75b"/>
<path d="M920.0,493.4 L923.0,496.4 L921.3,496.4 L921.3,500.2 L918.8,500.2 L918.8,496.4 L917.0,496.4 Z" stroke="#e8ffe8" stroke-width="1" fill="none" stroke-linejoin="miter"/>
<rect x="947.5" y="486.9" width="49.8" height="19.8" fill="#7d7d8b"/>
<path d="M968.2,498.1 L970.8,495.1 M968.2,498.1 L970.8,501.1 M976.6,498.1 L974.0,495.1 M976.6,498.1 L974.0,501.1 M969.8,496.9 H975.0 M969.8,499.3 H975.0" stroke="#fff" stroke-width="1.1" fill="none"/>
<rect x="765.3" y="509.3" width="26.7" height="19.7" fill="#a5d4bf"/>
<text x="778.6" y="522.5" font-size="9.4" fill="#24443a" stroke="#24443a" stroke-width="0.2" text-anchor="middle">PTE</text>
<rect x="795.2" y="509.3" width="44.8" height="19.7" fill="#4ea75b"/>
<path d="M817.6,515.8 L820.6,518.8 L818.9,518.8 L818.9,522.5 L816.3,522.5 L816.3,518.8 L814.6,518.8 Z" stroke="#e8ffe8" stroke-width="1" fill="none" stroke-linejoin="miter"/>
<rect x="843.1" y="509.3" width="49.2" height="19.7" fill="#f25252"/>
<path d="M867.7,522.5 L870.7,519.5 L869.0,519.5 L869.0,515.8 L866.4,515.8 L866.4,519.5 L864.7,519.5 Z" stroke="#fff" stroke-width="1" fill="none" stroke-linejoin="miter"/>
<rect x="895.4" y="509.3" width="49.3" height="19.7" fill="#4ea75b"/>
<path d="M920.0,515.8 L923.0,518.8 L921.3,518.8 L921.3,522.5 L918.8,522.5 L918.8,518.8 L917.0,518.8 Z" stroke="#e8ffe8" stroke-width="1" fill="none" stroke-linejoin="miter"/>
<rect x="947.5" y="509.3" width="49.8" height="19.7" fill="#4ea75b"/>
<path d="M972.4,515.8 L975.4,518.8 L973.7,518.8 L973.7,522.5 L971.1,522.5 L971.1,518.8 L969.4,518.8 Z" stroke="#e8ffe8" stroke-width="1" fill="none" stroke-linejoin="miter"/>
<text y="21.2" font-size="12" fill="#26928a" letter-spacing="0.25"><tspan x="35.5" text-anchor="end">221.75</tspan></text>
<text y="21.2" font-size="12" letter-spacing="0.25"><tspan x="42.5" fill="#131722">H</tspan><tspan x="52" fill="#26928a">23,229.00</tspan><tspan x="113.3" fill="#131722">L</tspan><tspan x="121" fill="#26928a">23,220.00</tspan><tspan x="182.8" fill="#131722">C</tspan><tspan x="191.3" fill="#26928a">23,228.50</tspan><tspan x="253.8" fill="#26928a">+6.50</tspan><tspan x="288" fill="#26928a">(+0.03%)</tspan></text>
<text x="1015.8" y="59.2" font-size="12" fill="#131722" stroke="#131722" stroke-width="0.2" textLength="52.4" lengthAdjust="spacingAndGlyphs">23,320.00</text>
<text x="1015.8" y="95.5" font-size="12" fill="#131722" stroke="#131722" stroke-width="0.2" textLength="52.4" lengthAdjust="spacingAndGlyphs">23,280.00</text>
<text x="1015.8" y="131.8" font-size="12" fill="#131722" stroke="#131722" stroke-width="0.2" textLength="52.4" lengthAdjust="spacingAndGlyphs">23,240.00</text>
<text x="1015.8" y="168.0" font-size="12" fill="#131722" stroke="#131722" stroke-width="0.2" textLength="52.4" lengthAdjust="spacingAndGlyphs">23,200.00</text>
<text x="1015.8" y="204.3" font-size="12" fill="#131722" stroke="#131722" stroke-width="0.2" textLength="52.4" lengthAdjust="spacingAndGlyphs">23,160.00</text>
<text x="1015.8" y="240.6" font-size="12" fill="#131722" stroke="#131722" stroke-width="0.2" textLength="52.4" lengthAdjust="spacingAndGlyphs">23,120.00</text>
<text x="1015.8" y="276.9" font-size="12" fill="#131722" stroke="#131722" stroke-width="0.2" textLength="52.4" lengthAdjust="spacingAndGlyphs">23,080.00</text>
<text x="1015.8" y="313.2" font-size="12" fill="#131722" stroke="#131722" stroke-width="0.2" textLength="52.4" lengthAdjust="spacingAndGlyphs">23,040.00</text>
<text x="1015.8" y="349.4" font-size="12" fill="#131722" stroke="#131722" stroke-width="0.2" textLength="52.4" lengthAdjust="spacingAndGlyphs">23,000.00</text>
<text x="1015.8" y="385.7" font-size="12" fill="#131722" stroke="#131722" stroke-width="0.2" textLength="52.4" lengthAdjust="spacingAndGlyphs">22,960.00</text>
<text x="1015.8" y="422.0" font-size="12" fill="#131722" stroke="#131722" stroke-width="0.2" textLength="52.4" lengthAdjust="spacingAndGlyphs">22,920.00</text>
<text x="1015.8" y="458.3" font-size="12" fill="#131722" stroke="#131722" stroke-width="0.2" textLength="52.4" lengthAdjust="spacingAndGlyphs">22,880.00</text>
<text x="1015.8" y="494.6" font-size="12" fill="#131722" stroke="#131722" stroke-width="0.2" textLength="52.4" lengthAdjust="spacingAndGlyphs">22,840.00</text>
<text x="1015.8" y="530.8" font-size="12" fill="#131722" stroke="#131722" stroke-width="0.2" textLength="52.4" lengthAdjust="spacingAndGlyphs">22,800.00</text>
<rect x="1008.4" y="131.1" width="64.6" height="15.4" rx="1" fill="#5d5c68"/>
<text x="1016.6" y="142.7" font-size="12.5" fill="#fff" stroke="#fff" stroke-width="0.2" textLength="52" lengthAdjust="spacingAndGlyphs">23,228.50</text>
<rect x="1008.2" y="523.6" width="30.8" height="16.1" rx="1" fill="#239ea0"/>
<text x="1026.3" y="535.6" font-size="12.3" fill="#e6ffff" stroke="#e6ffff" stroke-width="0.3" text-anchor="middle">970</text>
<rect x="1011.5" y="5.3" width="62" height="23.5" rx="3" fill="#fff" stroke="#eceef2" stroke-width="1"/>
<text x="1015.3" y="22" font-size="12.5" fill="#131722" textLength="19.8" lengthAdjust="spacingAndGlyphs">USD</text>
<path d="M1064.3,16.2 L1066.8,18.7 L1069.3,16.2" fill="none" stroke="#131722" stroke-width="1.3"/>
<text x="-3" y="558.2" font-size="11.8" fill="#131722" text-anchor="middle" stroke="#131722" stroke-width="0.2">12:00</text>
<text x="54" y="558.2" font-size="11.8" fill="#131722" text-anchor="middle" stroke="#131722" stroke-width="0.2">15:00</text>
<text x="111" y="558.2" font-size="11.8" fill="#131722" text-anchor="middle" stroke="#131722" stroke-width="0.2">18:00</text>
<text x="168" y="558.2" font-size="11.8" fill="#131722" text-anchor="middle" stroke="#131722" stroke-width="0.2">21:00</text>
<text x="225.7" y="558.2" font-size="11.3" fill="#131722" text-anchor="middle" font-weight="bold">18</text>
<text x="320" y="558.2" font-size="11.8" fill="#131722" text-anchor="middle" stroke="#131722" stroke-width="0.2">06:00</text>
<text x="377" y="558.2" font-size="11.8" fill="#131722" text-anchor="middle" stroke="#131722" stroke-width="0.2">09:00</text>
<text x="434" y="558.2" font-size="11.8" fill="#131722" text-anchor="middle" stroke="#131722" stroke-width="0.2">12:00</text>
<text x="491" y="558.2" font-size="11.8" fill="#131722" text-anchor="middle" stroke="#131722" stroke-width="0.2">15:00</text>
<text x="548.5" y="558.2" font-size="11.8" fill="#131722" text-anchor="middle" stroke="#131722" stroke-width="0.2">18:00</text>
<text x="604.5" y="558.2" font-size="11.8" fill="#131722" text-anchor="middle" stroke="#131722" stroke-width="0.2">21:00</text>
<text x="662.7" y="558.2" font-size="11.3" fill="#131722" text-anchor="middle" font-weight="bold">19</text>
<text x="757.5" y="558.2" font-size="11.8" fill="#131722" text-anchor="middle" stroke="#131722" stroke-width="0.2">06:00</text>
<text x="814.5" y="558.2" font-size="11.8" fill="#131722" text-anchor="middle" stroke="#131722" stroke-width="0.2">09:00</text>
<text x="871.5" y="558.2" font-size="11.8" fill="#131722" text-anchor="middle" stroke="#131722" stroke-width="0.2">12:00</text>
<text x="928.5" y="558.2" font-size="11.8" fill="#131722" text-anchor="middle" stroke="#131722" stroke-width="0.2">15:00</text>
<text x="985.5" y="558.2" font-size="11.8" fill="#131722" text-anchor="middle" stroke="#131722" stroke-width="0.2">18:00</text>
<path d="M1036.8,553.8 L1040,548.6 L1046.6,548.6 L1049.8,553.8 L1046.6,559.1 L1040,559.1 Z" fill="none" stroke="#131722" stroke-width="1.25" stroke-linejoin="round"/><circle cx="1043.3" cy="553.8" r="2.1" fill="none" stroke="#131722" stroke-width="1.2"/>
<rect x="0" y="565.8" width="1078" height="1" fill="#e6e7ec"/>
<text x="860" y="590.3" font-size="14" fill="#131722" stroke="#131722" stroke-width="0.25" textLength="115" lengthAdjust="spacingAndGlyphs">20:47:03 UTC+5:30</text>
<text x="988" y="590.3" font-size="14" fill="#131722" stroke="#131722" stroke-width="0.25" textLength="23" lengthAdjust="spacingAndGlyphs">ETH</text>
<rect x="1021.3" y="575" width="1" height="21" fill="#e6e7ec"/>
<text x="1032" y="590.3" font-size="14" fill="#131722" stroke="#131722" stroke-width="0.25" textLength="35.7" lengthAdjust="spacingAndGlyphs">B-ADJ</text>
</svg>
</body></html>
